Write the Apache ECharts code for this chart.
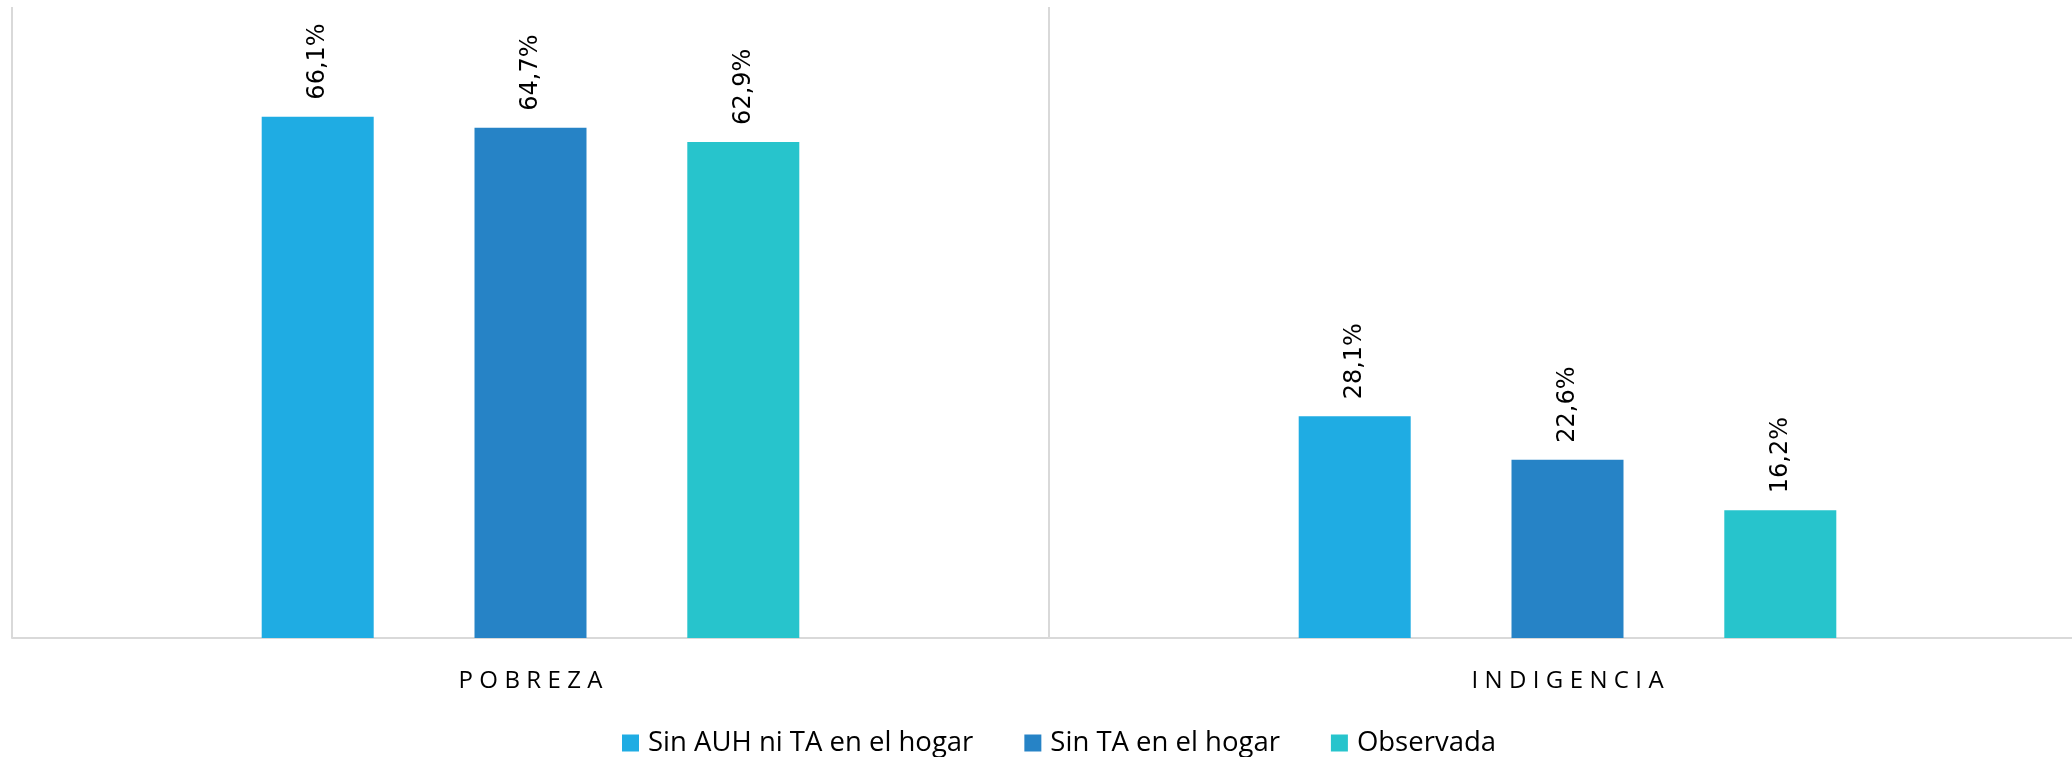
<!DOCTYPE html>
<html>
<head>
<meta charset="utf-8">
<script src="https://cdn.jsdelivr.net/npm/echarts@6/dist/echarts.min.js"></script>
<style>html,body{margin:0;padding:0;background:#fff;overflow:hidden;width:2072px;height:757px}#c{width:2086px;height:757px}</style>
</head>
<body>
<div id="c"></div>
<script>
const categories = ['POBREZA', 'INDIGENCIA'];
const seriesNames = ['Sin AUH ni TA en el hogar', 'Sin TA en el hogar', 'Observada'];
const sinAuhNiTa = [66.1, 28.1];
const sinTa = [64.7, 22.6];
const observada = [62.9, 16.2];
const colors = ['#1FACE3', '#2683C6', '#27C4CC'];

const chart = echarts.init(document.getElementById('c'), null, {renderer: 'canvas'});
const fmt = p => p.value.toFixed(1).replace('.', ',') + '%';
const mk = (name, data, color) => ({
  name, type: 'bar', data, barWidth: 112, barGap: '90%',
  itemStyle: {color},
  label: {
    show: true, position: 'top', rotate: 90, align: 'left', verticalAlign: 'middle',
    distance: 17, formatter: fmt, color: '#000', fontFamily: 'DejaVu Sans', fontSize: 24
  }
});
chart.setOption({
  animation: false,
  backgroundColor: '#fff',
  grid: {left: 12, top: 7, right: 0, height: 631, containLabel: false},
  xAxis: {
    type: 'category', data: categories,
    axisLine: {lineStyle: {color: '#d9d9d9', width: 2}},
    axisTick: {show: false},
    splitLine: {show: true, lineStyle: {color: '#d9d9d9', width: 2}},
    axisLabel: {
      margin: 31, color: '#000', fontFamily: 'Open Sans', fontSize: 24,
      formatter: v => v.split('').join('\u2009\u200A')
    }
  },
  yAxis: {type: 'value', min: 0, max: 80, show: false, splitLine: {show: false}},
  legend: {
    left: 617, top: 724, itemWidth: 17, itemHeight: 17, itemGap: 51,
    icon: 'rect',
    textStyle: {fontFamily: 'Open Sans', fontSize: 27.5, color: '#000', padding: [0, 0, 0, 4]},
    data: seriesNames
  },
  series: [
    mk(seriesNames[0], sinAuhNiTa, colors[0]),
    mk(seriesNames[1], sinTa, colors[1]),
    mk(seriesNames[2], observada, colors[2])
  ]
});
</script>
</body>
</html>
